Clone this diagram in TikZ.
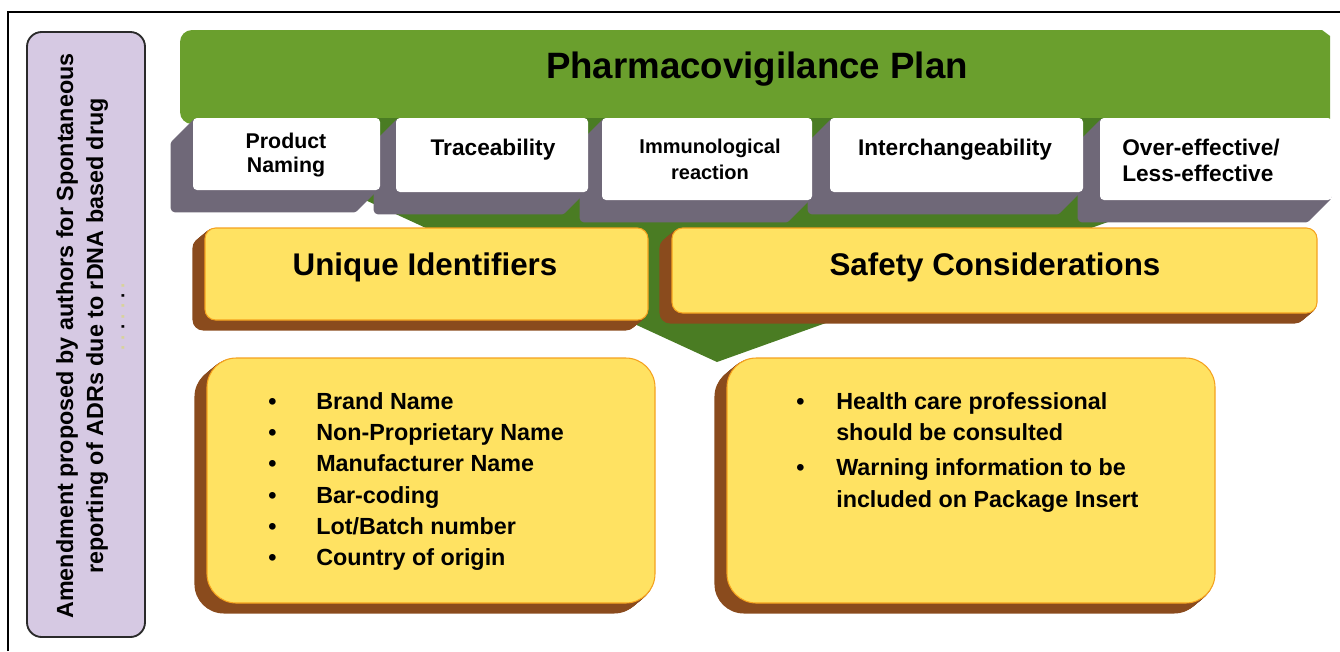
\documentclass[tikz,border=0pt]{standalone}
\usepackage{fontspec}
\setmainfont{Liberation Sans}
\usetikzlibrary{calc,fit}
\definecolor{cgreen}{HTML}{6A9F2D}
\definecolor{cgreendk}{HTML}{4A7C23}
\definecolor{cshade}{HTML}{6F6878}
\definecolor{cyellow}{HTML}{FFE262}
\definecolor{corange}{HTML}{F5A21E}
\definecolor{cbrown}{HTML}{8A4B1D}
\definecolor{cpurple}{HTML}{D6C9E3}
\definecolor{cdark}{HTML}{2A2A2A}
\definecolor{cdotpale}{HTML}{D8D39A}
\pgfdeclarelayer{back}
\pgfsetlayers{back,main}

\begin{document}
\begin{tikzpicture}[x=0.75pt,y=-0.75pt,
  tab/.style={fill=white, rounded corners=3pt, inner sep=0pt},
  head/.style={fill=cyellow, draw=corange, line width=0.8pt, rounded corners=8pt, inner sep=0pt},
  card/.style={head, rounded corners=22pt},
  tablbl/.style={font=\fontsize{17}{19.5}\selectfont\bfseries, inner sep=0pt, anchor=base},
  headlbl/.style={font=\fontsize{23.5}{26}\selectfont\bfseries, inner sep=0pt, anchor=base},
  lst/.style={font=\fontsize{17.5}{23.5}\selectfont\bfseries, inner sep=0pt, anchor=base west}]

\useasboundingbox (0,0) rectangle (1340,651);

% tabs across the plan
\node[tab, fit={(193,118)(380,190)}] (pn) {};
\node[tab, fit={(396,118)(588,192)}] (tr) {};
\node[tab, fit={(602,118)(812,200)}] (im) {};
\node[tab, fit={(830,118)(1083,192)}] (ic) {};
\node[tab, fit={(1100,118)(1332,200)}] (oe) {};

\node[font=\fontsize{27.5}{30}\selectfont\bfseries, inner sep=0pt, anchor=base] (plan) at (757,78) {Pharmacovigilance Plan};
\node[tablbl, font=\fontsize{16}{18}\selectfont\bfseries] (pnlbl) at (286,148) {\begin{tabular}[t]{@{}c@{}}Product\\Naming\end{tabular}};
\node[tablbl] (trlbl) at (493,155) {Traceability};
\node[tablbl, font=\fontsize{15}{19.5}\selectfont\bfseries] (imlbl) at (710,153) {\begin{tabular}[t]{@{}c@{}}Immunological\\reaction\end{tabular}};
\node[tablbl] (iclbl) at (955,155) {Interchangeability};
\node[tablbl, anchor=base west] (oelbl) at (1122,155) {\begin{tabular}[t]{@{}l@{}}Over-effective/\\Less-effective\end{tabular}};

% the two headings and their lists
\node[head, fit={(205,228)(648,320)}] (ui) {};
\node[head, fit={(672,228)(1317,313)}] (sc) {};
\node[headlbl] (uilbl) at (425,275) {Unique Identifiers};
\node[headlbl] (sclbl) at (995,275) {Safety Considerations};

\node[card, fit={(207,358)(655,603)}] (uicard) {};
\node[card, fit={(727,358)(1215,603)}] (sccard) {};
\node[lst] (uilist) at (268,409) {\begin{tabular}[t]{@{}l@{}l@{}}
  \makebox[36pt][l]{\textbullet} & Brand Name\\
  \makebox[36pt][l]{\textbullet} & Non-Proprietary Name\\
  \makebox[36pt][l]{\textbullet} & Manufacturer Name\\
  \makebox[36pt][l]{\textbullet} & Bar-coding\\
  \makebox[36pt][l]{\textbullet} & Lot/Batch number\\
  \makebox[36pt][l]{\textbullet} & Country of origin
\end{tabular}};
\node[lst] (sclist) at (796,409) {\begin{tabular}[t]{@{}l@{}l@{}}
  \makebox[30pt][l]{\textbullet} & Health care professional\\
  & should be consulted\\[3pt]
  \makebox[30pt][l]{\textbullet} & Warning information to be\\
  & included on Package Insert
\end{tabular}};

% side note
\node[fit={(27,32)(145,637)}, fill=cpurple, draw=cdark, line width=1.4pt, rounded corners=11pt, inner sep=0pt] (amend) {};
\node[rotate=90, anchor=base, inner sep=0pt, font=\fontsize{17.5}{22.5}\selectfont\bfseries] (amendlbl) at (73,336) {\begin{tabular}[t]{@{}c@{}}
  Amendment proposed by authors for Spontaneous\\
  reporting of ADRs due to rDNA based drug\\[-6.5pt]
  \makebox[90pt][l]{\fontsize{14}{14}\selectfont\hspace*{34pt}%
    \textcolor{cdotpale}{.\hspace{4pt}.\hspace{4pt}}.%
    \textcolor{cdotpale}{\hspace{4pt}.\hspace{4pt}.\hspace{3.5pt}}.%
    \textcolor{cdotpale}{\hspace{4pt}.}}
\end{tabular}};

\begin{pgfonlayer}{back}
  \fill[cgreen] (1330,36) -- (1330,124) [rounded corners=9pt] -- (180,124) -- (180,30) [sharp corners] -- (1322,30) -- cycle;
  \fill[cgreendk] (300,118) -- (1200,118) -- (1200,189) -- (717,362) -- (300,170) -- cycle;
  \foreach \n in {pn,tr,im,ic,oe}
    \foreach \k in {1,...,22}
      \fill[cshade, rounded corners=3pt] ($(\n.north west)+(-\k,\k)$) rectangle ($(\n.south east)+(-\k,\k)$);
  \foreach \n in {ui,sc}
    \foreach \k in {1,...,12}
      \fill[cbrown, rounded corners=8pt] ($(\n.north west)+(-\k,{\k*0.83})$) rectangle ($(\n.south east)+(-\k,{\k*0.83})$);
  \foreach \n in {uicard,sccard}
    \foreach \k in {1,...,12}
      \fill[cbrown, rounded corners=22pt] ($(\n.north west)+(-\k,{\k*0.83})$) rectangle ($(\n.south east)+(-\k,{\k*0.83})$);
\end{pgfonlayer}

% frame
\draw[line width=1.6pt] (8,651) -- (8,12) -- (1340,12);
\end{tikzpicture}
\end{document}
